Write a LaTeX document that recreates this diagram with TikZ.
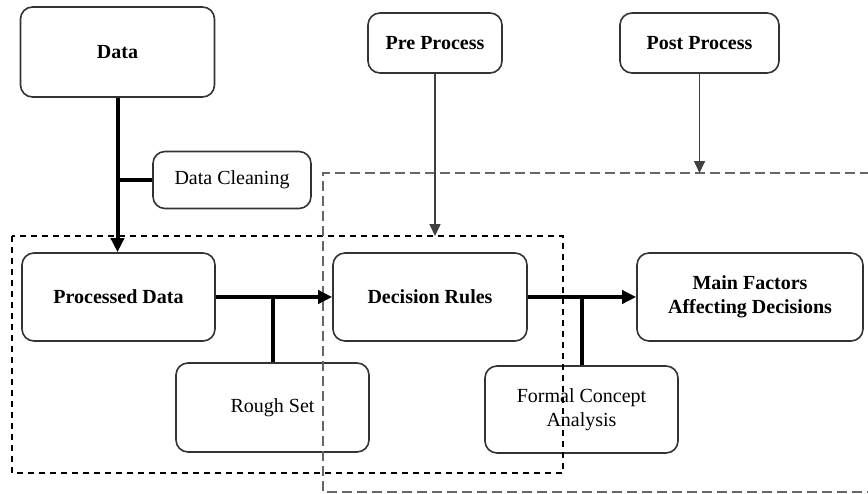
\documentclass[tikz,border=0pt]{standalone}
\usepackage{fontspec}
\setmainfont{Liberation Serif}
\usetikzlibrary{arrows.meta}

\tikzset{
    box/.style={draw=black!80, line width=0.8pt, rounded corners=6pt, align=center,
        font=\fontsize{10}{12}\selectfont},
    boldbox/.style={box, font=\fontsize{10}{12}\selectfont\bfseries},
    flow/.style={line width=2pt, -{Triangle[length=7pt,width=6.5pt]}},
    branch/.style={line width=2pt},
    thin/.style={draw=black!75, line width=0.8pt, -{Triangle[length=6pt,width=5.5pt]}},
    region/.style={dash pattern=on 3pt off 2.5pt, line width=0.6pt},
    bigregion/.style={draw=black!60, dash pattern=on 5pt off 2.5pt, line width=0.8pt}
}

\begin{document}
\begin{tikzpicture}[x=0.5pt, y=-0.5pt]
    \useasboundingbox (0,0) rectangle (868,493);

    % 方框
    \node[boldbox, minimum width=97pt, minimum height=45pt] (data) at (117.5,52) {Data};
    \node[box, minimum width=79pt, minimum height=28.5pt] (clean) at (232,180) {Data Cleaning};
    \node[boldbox, minimum width=67pt, minimum height=30pt] (pre) at (435,43) {Pre Process};
    \node[boldbox, minimum width=79.5pt, minimum height=30pt] (post) at (699.5,43) {Post Process};
    \node[boldbox, minimum width=96.5pt, minimum height=44pt] (proc) at (118.5,297) {Processed Data};
    \node[boldbox, minimum width=97pt, minimum height=44pt] (rules) at (430,297) {Decision Rules};
    \node[boldbox, minimum width=113pt, minimum height=44pt] (main) at (750,297) {Main Factors\\Affecting Decisions};
    \node[box, minimum width=96.5pt, minimum height=44.5pt] (rough) at (272.5,407.5) {Rough Set};
    \node[box, minimum width=96.5pt, minimum height=43.5pt] (fca) at (581.5,409.5) {Formal Concept\\Analysis};

    % 虚线区域
    \coordinate (lefttop) at (12,236);
    \coordinate (rightop) at (323,173);
    \draw[region] (lefttop) rectangle (563,473);
    \draw[bigregion] (870,173) -- (rightop) -- (323,492) -- (870,492);

    % 主流程
    \draw[flow] (data.south) -- (data.south |- proc.north);
    \draw[branch] (data.south |- clean.west) -- (clean.west);
    \draw[flow] (proc.east) -- (rules.west);
    \draw[branch] (rough.north) -- (rough.north |- proc.east);
    \draw[flow] (rules.east) -- (main.west);
    \draw[branch] (fca.north) -- (fca.north |- rules.east);

    % 前处理, 后处理
    \draw[thin] (pre.south) -- (pre.south |- lefttop);
    \draw[thin] (post.south) -- (post.south |- rightop);
\end{tikzpicture}
\end{document}
